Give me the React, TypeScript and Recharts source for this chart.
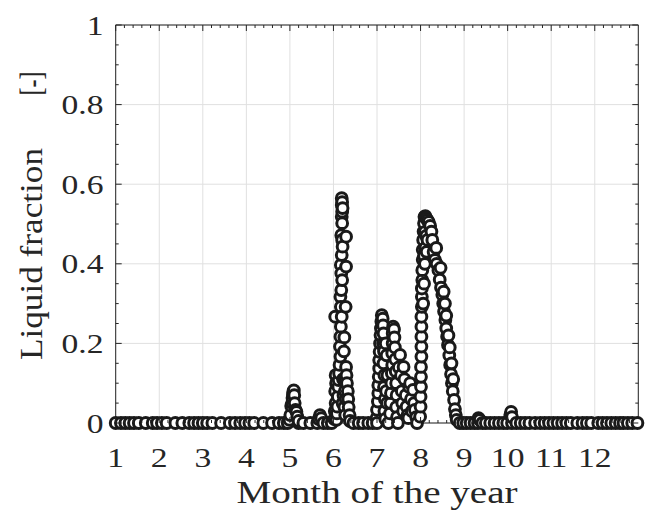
import React from 'react';
import { ScatterChart, Scatter, XAxis, YAxis, CartesianGrid, ReferenceArea } from 'recharts';

// ---- data ----
const monthTicks = [1, 2, 3, 4, 5, 6, 7, 8, 9, 10, 11, 12];
const fractionTicks = [0, 0.2, 0.4, 0.6, 0.8, 1];

const zeroMonths = [
  1.0, 1.12, 1.22, 1.32, 1.42, 1.53, 1.69, 1.85, 1.95, 2.06, 2.17, 2.37, 2.53, 2.69, 2.8, 2.9, 3.0, 3.1,
  3.22, 3.42, 3.62, 3.74, 3.86, 3.97, 4.07, 4.18, 4.39, 4.59, 4.75, 4.86, 4.95, 5.2, 5.31, 5.47, 5.63,
  5.77, 5.87, 5.96, 6.46, 6.58, 6.68, 6.8, 6.9, 7.0, 7.26, 7.48, 7.92, 8.9, 8.98, 9.06, 9.15, 9.24, 9.32,
  9.42, 9.5, 9.6, 9.7, 9.8, 9.9, 9.99, 10.1, 10.2, 10.3, 10.4, 10.5, 10.63, 10.75, 10.85, 10.95, 11.05,
  11.15, 11.25, 11.35, 11.45, 11.6, 11.72, 11.82, 11.92, 12.08, 12.18, 12.28, 12.38, 12.48, 12.58, 12.66,
  12.76, 12.86, 12.98,
];

const smallMonths = [5.66, 5.69, 5.72, 9.33, 9.36, 10.06, 10.08, 10.1];
const smallValues = [0.01, 0.02, 0.012, 0.012, 0.008, 0.02, 0.028, 0.015];

const mayMonths = [4.99, 5.01, 5.03, 5.05, 5.06, 5.07, 5.08, 5.09, 5.1, 5.11, 5.13, 5.15, 5.17, 5.2];
const mayValues = [0.008, 0.02, 0.043, 0.05, 0.063, 0.072, 0.079, 0.082, 0.07, 0.05, 0.033, 0.028, 0.016, 0.005];

const juneMonths = [
  6.02, 6.03, 6.04, 6.05, 6.05, 6.06, 6.07, 6.04, 6.08, 6.09, 6.1, 6.11, 6.12, 6.13, 6.14, 6.16, 6.15, 6.16,
  6.17, 6.19, 6.17, 6.16, 6.18, 6.2, 6.18, 6.17, 6.19, 6.21, 6.2, 6.18, 6.2, 6.19, 6.2, 6.19, 6.19, 6.2, 6.21,
  6.29, 6.29, 6.28, 6.25, 6.24, 6.22, 6.23, 6.21, 6.29, 6.3, 6.31, 6.33, 6.27, 6.26, 6.34, 6.28, 6.35, 6.25,
  6.37, 6.27, 6.38,
];
const juneValues = [
  0.01, 0.03, 0.08, 0.05, 0.12, 0.1, 0.008, 0.267, 0.024, 0.041, 0.066, 0.091, 0.108, 0.125, 0.146, 0.167,
  0.192, 0.217, 0.242, 0.267, 0.292, 0.317, 0.334, 0.359, 0.376, 0.397, 0.422, 0.443, 0.46, 0.472, 0.502,
  0.518, 0.531, 0.548, 0.565, 0.555, 0.54, 0.468, 0.393, 0.292, 0.215, 0.18, 0.11, 0.07, 0.05, 0.141, 0.12,
  0.1, 0.08, 0.11, 0.08, 0.06, 0.06, 0.04, 0.04, 0.02, 0.02, 0.005,
];

const julyMonths = [
  6.99, 7.0, 7.02, 7.03, 7.03, 7.04, 7.05, 7.05, 7.06, 7.07, 7.08, 7.09, 7.1, 7.11, 7.13, 7.14, 7.15, 7.14,
  7.16, 7.15, 7.17, 7.16, 7.18, 7.17, 7.19, 7.2, 7.22, 7.24, 7.21, 7.23, 7.3, 7.31, 7.32, 7.33, 7.34, 7.35,
  7.35, 7.36, 7.36, 7.37, 7.39, 7.4, 7.41, 7.42, 7.43, 7.44, 7.45, 7.44, 7.46, 7.5, 7.53, 7.55, 7.57, 7.58,
  7.6, 7.61, 7.63, 7.66, 7.68, 7.7, 7.72, 7.74, 7.76, 7.78, 7.8, 7.83, 7.85, 7.87, 7.9,
];
const julyValues = [
  0.012, 0.033, 0.054, 0.075, 0.095, 0.116, 0.137, 0.158, 0.179, 0.2, 0.221, 0.238, 0.255, 0.271, 0.262,
  0.245, 0.225, 0.2, 0.18, 0.15, 0.12, 0.09, 0.06, 0.03, 0.01, 0.2, 0.17, 0.12, 0.08, 0.05, 0.024, 0.05,
  0.075, 0.1, 0.125, 0.146, 0.175, 0.2, 0.225, 0.242, 0.235, 0.215, 0.19, 0.16, 0.13, 0.1, 0.07, 0.04,
  0.015, 0.14, 0.171, 0.12, 0.08, 0.05, 0.03, 0.141, 0.11, 0.07, 0.041, 0.02, 0.012, 0.09, 0.1, 0.06, 0.03,
  0.083, 0.05, 0.033, 0.015,
];

const augMonths = [
  7.99, 8.0, 8.0, 8.01, 8.01, 8.01, 8.02, 8.02, 8.02, 8.02, 8.02, 8.03, 8.03, 8.03, 8.04, 8.04, 8.05, 8.05, 8.06,
  8.07, 8.08, 8.09, 8.11, 8.13, 8.16, 8.19, 8.1, 8.13, 8.11, 8.16, 8.08, 8.14, 8.1, 8.06, 8.08, 8.22, 8.25,
  8.27, 8.3, 8.33, 8.37, 8.41, 8.44, 8.47, 8.5, 8.52, 8.54, 8.57, 8.59, 8.61, 8.63, 8.66, 8.68, 8.7, 8.72,
  8.74, 8.77, 8.79, 8.81, 8.83, 8.36, 8.46, 8.53, 8.56, 8.59, 8.64, 8.67, 8.71, 8.75,
];
const augValues = [
  0.016, 0.041, 0.066, 0.091, 0.116, 0.141, 0.167, 0.192, 0.217, 0.242, 0.267, 0.292, 0.317, 0.338, 0.359,
  0.384, 0.41, 0.435, 0.46, 0.481, 0.502, 0.518, 0.52, 0.515, 0.51, 0.505, 0.48, 0.47, 0.44, 0.46, 0.42,
  0.43, 0.4, 0.3, 0.35, 0.495, 0.481, 0.46, 0.43, 0.41, 0.4, 0.384, 0.36, 0.34, 0.322, 0.3, 0.28, 0.259,
  0.238, 0.217, 0.196, 0.17, 0.146, 0.123, 0.1, 0.08, 0.058, 0.035, 0.02, 0.008, 0.44, 0.39, 0.33, 0.3,
  0.27, 0.22, 0.19, 0.15, 0.11,
];

type Pt = { month: number; fraction: number };
const zip = (ms: number[], vs: number[]): Pt[] => ms.map((m, i) => ({ month: m, fraction: vs[i] }));

const data: Pt[] = [
  ...zeroMonths.map((m) => ({ month: m, fraction: 0 })),
  ...zip(smallMonths, smallValues),
  ...zip(mayMonths, mayValues),
  ...zip(juneMonths, juneValues),
  ...zip(julyMonths, julyValues),
  ...zip(augMonths, augValues),
].sort((a, b) => a.month - b.month);

// ---- layout / style ----
const W = 649;
const H = 516;
const PLOT = { left: 115.7, top: 25, right: 638.3, bottom: 423 };
const AXIS = '#262626';
const FONT = '"Liberation Serif", "Times New Roman", serif';

const XTick = (props: any) => {
  const { x, payload } = props;
  const step = (PLOT.right - PLOT.left) / 12 / 5;
  const minors = [1, 2, 3, 4].map((i) => x + i * step);
  return (
    <g>
      <line x1={x} x2={x} y1={PLOT.bottom} y2={PLOT.bottom - 6} stroke={AXIS} strokeWidth={1} />
      <line x1={x} x2={x} y1={PLOT.top} y2={PLOT.top + 6} stroke={AXIS} strokeWidth={1} />
      {minors.map((mx, i) => (
        <g key={i}>
          <line x1={mx} x2={mx} y1={PLOT.bottom} y2={PLOT.bottom - 3} stroke={AXIS} strokeWidth={1} />
          <line x1={mx} x2={mx} y1={PLOT.top} y2={PLOT.top + 3} stroke={AXIS} strokeWidth={1} />
        </g>
      ))}
      <text
        transform={`translate(${x},${467}) scale(1.2,1)`}
        textAnchor="middle"
        fontSize={28}
        fontFamily={FONT}
        fill={AXIS}
      >
        {payload.value}
      </text>
    </g>
  );
};

const YTick = (props: any) => {
  const { y, payload } = props;
  const step = (PLOT.bottom - PLOT.top) / 5 / 4;
  const minors = payload.value < 1 ? [1, 2, 3].map((i) => y - i * step) : [];
  return (
    <g>
      <line x1={PLOT.left} x2={PLOT.left + 6} y1={y} y2={y} stroke={AXIS} strokeWidth={1} />
      <line x1={PLOT.right} x2={PLOT.right - 6} y1={y} y2={y} stroke={AXIS} strokeWidth={1} />
      {minors.map((my, i) => (
        <g key={i}>
          <line x1={PLOT.left} x2={PLOT.left + 3} y1={my} y2={my} stroke={AXIS} strokeWidth={1} />
          <line x1={PLOT.right} x2={PLOT.right - 3} y1={my} y2={my} stroke={AXIS} strokeWidth={1} />
        </g>
      ))}
      <text
        transform={`translate(${103.5},${y + 9.5}) scale(1.2,1)`}
        textAnchor="end"
        fontSize={28}
        fontFamily={FONT}
        fill={AXIS}
      >
        {payload.value}
      </text>
    </g>
  );
};

const XLabel = () => (
  <text
    x={377}
    y={503}
    textAnchor="middle"
    fontSize={31}
    fontFamily={FONT}
    fill={AXIS}
    textLength={281}
    lengthAdjust="spacingAndGlyphs"
  >
    Month of the year
  </text>
);

const YLabel = () => (
  <g>
    <text
      transform="translate(41.7,254) rotate(-90)"
      textAnchor="middle"
      fontSize={31}
      fontFamily={FONT}
      fill={AXIS}
      textLength={212}
      lengthAdjust="spacingAndGlyphs"
    >
      Liquid fraction
    </text>
    <text
      transform="translate(41.7,83.5) rotate(-90)"
      textAnchor="middle"
      fontSize={31}
      fontFamily={FONT}
      fill={AXIS}
      textLength={24}
      lengthAdjust="spacingAndGlyphs"
    >
      [-]
    </text>
  </g>
);

const Marker = (props: any) => {
  const { cx, cy } = props;
  return <circle cx={cx} cy={cy} r={5.4} fill="#ffffff" stroke="#1a1a1a" strokeWidth={3} />;
};

export default function App() {
  return (
    <div style={{ position: 'absolute', left: 0, top: 0, width: W, height: H, background: '#fff' }}>
      <ScatterChart
        width={W}
        height={H}
        margin={{ top: PLOT.top, right: W - PLOT.right, bottom: 0, left: 0 }}
      >
        <CartesianGrid stroke="#e0e0e0" strokeWidth={1} />
        <XAxis
          type="number"
          dataKey="month"
          domain={[1, 13]}
          ticks={monthTicks}
          interval={0}
          height={H - PLOT.bottom}
          axisLine={false}
          tickLine={false}
          tick={<XTick />}
          label={<XLabel />}
        />
        <YAxis
          type="number"
          dataKey="fraction"
          domain={[0, 1]}
          ticks={fractionTicks}
          interval={0}
          width={PLOT.left}
          axisLine={false}
          tickLine={false}
          tick={<YTick />}
          label={<YLabel />}
        />
        <ReferenceArea x1={1} x2={13} y1={0} y2={1} fill="none" stroke={AXIS} strokeWidth={1} />
        <Scatter data={data} shape={<Marker />} isAnimationActive={false} />
      </ScatterChart>
    </div>
  );
}
